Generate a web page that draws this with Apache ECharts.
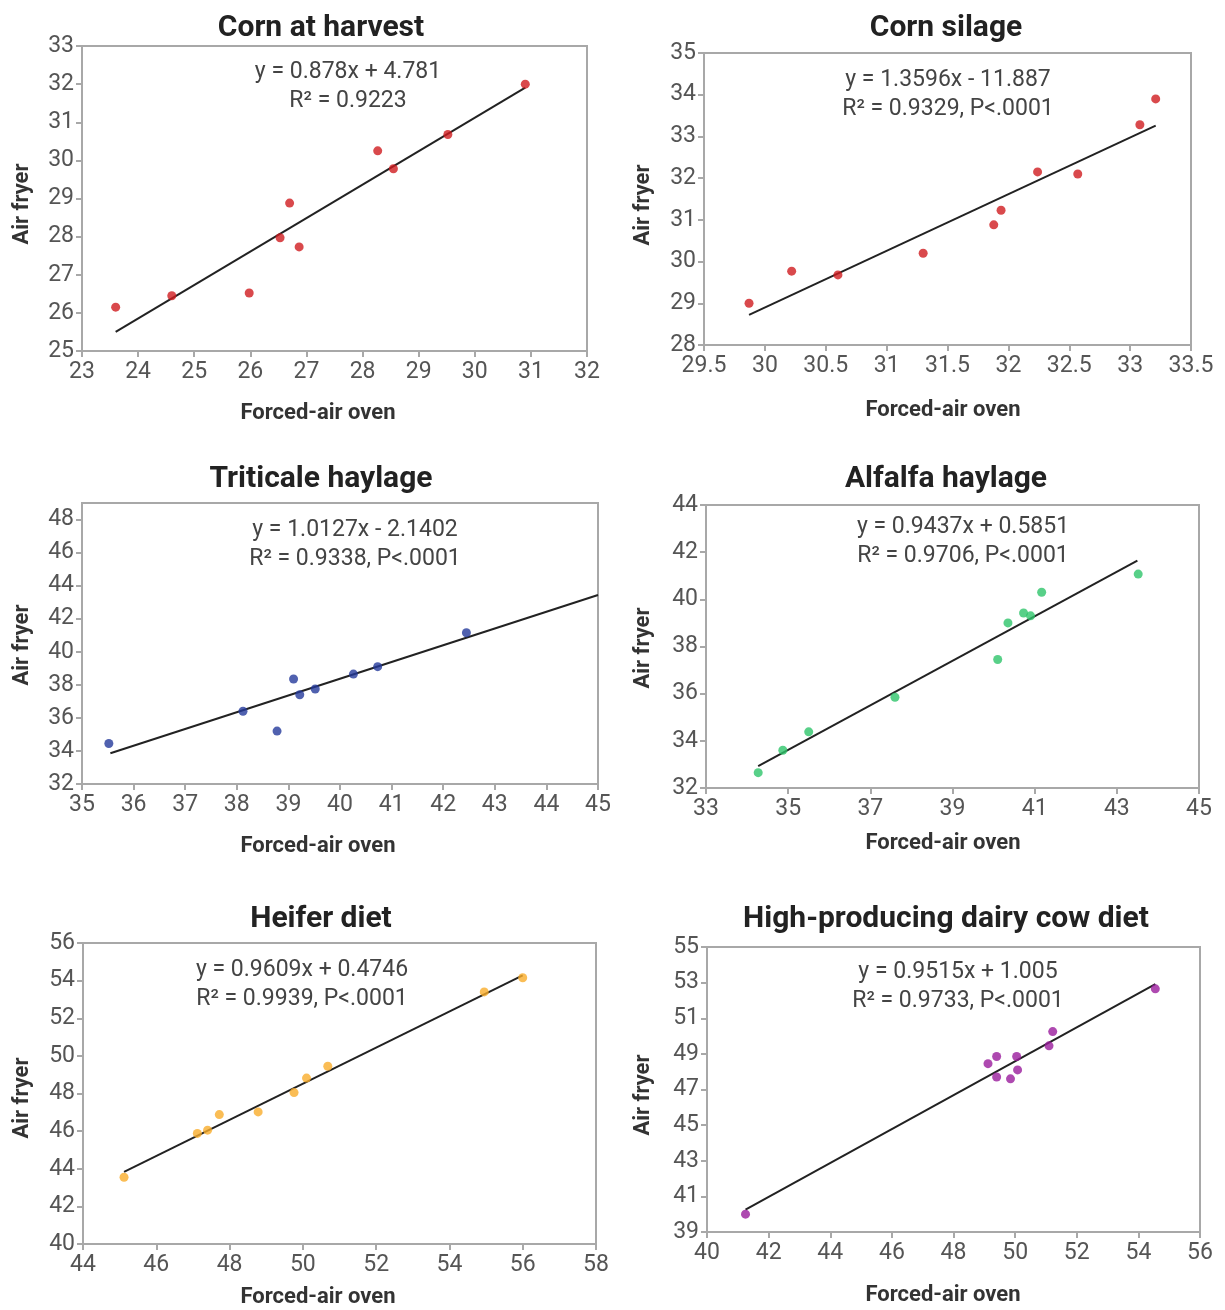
<!DOCTYPE html>
<html>
<head>
<meta charset="utf-8">
<script src="https://cdn.jsdelivr.net/npm/echarts@6/dist/echarts.min.js"></script>
<style>
  html, body { margin: 0; padding: 0; background: #fff; }
  #chart { width: 1225px; height: 1310px; }
</style>
</head>
<body>
<div id="chart"></div>
<script>
// panel titles and equation labels
const titles = ['Corn at harvest', 'Corn silage', 'Triticale haylage', 'Alfalfa haylage', 'Heifer diet', 'High-producing dairy cow diet']
const equations = [
  ['y = 0.878x + 4.781', 'R\u00b2 = 0.9223'],
  ['y = 1.3596x - 11.887', 'R\u00b2 = 0.9329, P<.0001'],
  ['y = 1.0127x - 2.1402', 'R\u00b2 = 0.9338, P<.0001'],
  ['y = 0.9437x + 0.5851', 'R\u00b2 = 0.9706, P<.0001'],
  ['y = 0.9609x + 0.4746', 'R\u00b2 = 0.9939, P<.0001'],
  ['y = 0.9515x + 1.005', 'R\u00b2 = 0.9733, P<.0001']
]
const xName = 'Forced-air oven'
const yName = 'Air fryer'

// forced-air oven (x) vs air fryer (y)
const cornHarvest = [[23.6, 26.15], [24.6, 26.45], [25.98, 26.52], [26.53, 27.97], [26.7, 28.88], [26.87, 27.73], [28.27, 30.25], [28.55, 29.78], [29.52, 30.68], [30.9, 32.0]]
const cornSilage = [[29.87, 29.0], [30.22, 29.77], [30.6, 29.68], [31.3, 30.2], [31.88, 30.88], [31.94, 31.23], [32.24, 32.15], [32.57, 32.1], [33.08, 33.28], [33.21, 33.9]]
const triticale = [[35.52, 34.45], [38.12, 36.4], [38.78, 35.2], [39.1, 38.35], [39.22, 37.4], [39.52, 37.75], [40.26, 38.65], [40.73, 39.1], [42.45, 41.15]]
const alfalfa = [[34.27, 32.65], [34.87, 33.6], [35.5, 34.38], [37.6, 35.85], [40.1, 37.45], [40.35, 39.0], [40.73, 39.42], [40.9, 39.3], [41.17, 40.3], [43.52, 41.07]]
const heifer = [[45.12, 43.55], [47.12, 45.88], [47.4, 46.05], [47.72, 46.88], [48.78, 47.02], [49.76, 48.05], [50.1, 48.82], [50.68, 49.45], [54.95, 53.4], [56.0, 54.15]]
const dairyCow = [[41.25, 40.0], [49.12, 48.45], [49.4, 48.85], [49.4, 47.7], [49.85, 47.6], [50.05, 48.85], [50.08, 48.1], [51.1, 49.45], [51.22, 50.25], [54.55, 52.65]]

// trend line end points
const trendLines = [
  [[23.6, 25.5], [30.9, 31.91]],
  [[29.87, 28.72], [33.21, 33.26]],
  [[35.55, 33.86], [45.0, 43.43]],
  [[34.27, 32.93], [43.5, 41.64]],
  [[45.12, 43.83], [56.0, 54.28]],
  [[41.25, 40.25], [54.55, 52.91]]
]

// axis ranges [min, max, interval]
const xRanges = [[23, 32, 1], [29.5, 33.5, 0.5], [35, 45, 1], [33, 45, 2], [44, 58, 2], [40, 56, 2]]
const yRanges = [[25, 33, 1], [28, 35, 1], [32, 49, 2], [32, 44, 2], [40, 56, 2], [39, 55, 2]]

const pointSets = [cornHarvest, cornSilage, triticale, alfalfa, heifer, dairyCow]
const colors = ['#cf1b1f', '#cf1b1f', '#243a9b', '#2ec46a', '#f9ad2a', '#9a1b9c']

const grids = [
  { left: 82, top: 46, width: 505, height: 305 },
  { left: 704, top: 53, width: 487, height: 292 },
  { left: 82, top: 503, width: 516, height: 281 },
  { left: 706, top: 505, width: 493, height: 283 },
  { left: 83, top: 943, width: 513, height: 301 },
  { left: 707, top: 947, width: 493, height: 285 }
]
const titlePos = [[316, 8], [941, 8], [316, 459], [941, 459], [316, 899], [941, 899]]
const eqPos = [[348, 58], [948, 66], [355, 516], [963, 513], [302, 956], [958, 958]]
const xNamePos = [[318, 413], [943, 410], [318, 846], [943, 843], [318, 1297], [943, 1295]]
const yNamePos = [[22, 204], [643, 205], [22, 645], [643, 648], [22, 1098], [643, 1095]]

const font = "'Liberation Sans Narrow', 'Roboto', sans-serif"

let chart = echarts.init(document.getElementById('chart'))

let option = {
  backgroundColor: '#fff',
  animation: false,
  title: [],
  grid: [],
  xAxis: [],
  yAxis: [],
  series: [],
  graphic: []
}

for (let i = 0; i < 6; i++) {
  option.title.push({
    text: titles[i],
    left: titlePos[i][0],
    top: titlePos[i][1],
    textAlign: 'center',
    textStyle: { fontFamily: font, fontSize: 30, fontWeight: 'bold', color: '#222' }
  })
  option.grid.push(Object.assign({ show: true, borderColor: '#a8a8a8', borderWidth: 2, containLabel: false }, grids[i]))
  option.xAxis.push({
    type: 'value',
    gridIndex: i,
    min: xRanges[i][0],
    max: xRanges[i][1],
    interval: xRanges[i][2],
    axisLine: { lineStyle: { color: '#a8a8a8', width: 2 } },
    axisTick: { show: true, length: 6, lineStyle: { color: '#a8a8a8', width: 2 } },
    axisLabel: { fontFamily: font, fontSize: 23, color: '#555', margin: 10 },
    splitLine: { show: false }
  })
  option.yAxis.push({
    type: 'value',
    gridIndex: i,
    min: yRanges[i][0],
    max: yRanges[i][1],
    interval: yRanges[i][2],
    axisLine: { lineStyle: { color: '#a8a8a8', width: 2 } },
    axisTick: { show: true, length: 6, lineStyle: { color: '#a8a8a8', width: 2 } },
    axisLabel: { fontFamily: font, fontSize: 23, color: '#555', margin: 8, showMaxLabel: i !== 2 },
    splitLine: { show: false }
  })
  option.series.push({
    type: 'line',
    xAxisIndex: i,
    yAxisIndex: i,
    data: trendLines[i],
    showSymbol: false,
    lineStyle: { color: '#222', width: 2 },
    z: 2
  })
  option.series.push({
    type: 'scatter',
    xAxisIndex: i,
    yAxisIndex: i,
    data: pointSets[i],
    symbolSize: 9,
    itemStyle: { color: colors[i] },
    z: 3
  })
  option.graphic.push({
    type: 'text',
    x: eqPos[i][0],
    y: eqPos[i][1],
    style: {
      text: equations[i].join('\n'),
      align: 'center',
      verticalAlign: 'top',
      fontFamily: font,
      fontSize: 23,
      lineHeight: 29,
      fill: '#444'
    }
  })
  option.graphic.push({
    type: 'text',
    x: xNamePos[i][0],
    y: xNamePos[i][1],
    style: {
      text: xName,
      align: 'center',
      verticalAlign: 'middle',
      fontFamily: font,
      fontSize: 22,
      fontWeight: 'bold',
      fill: '#333'
    }
  })
  option.graphic.push({
    type: 'text',
    x: yNamePos[i][0],
    y: yNamePos[i][1],
    rotation: Math.PI / 2,
    style: {
      text: yName,
      align: 'center',
      verticalAlign: 'middle',
      fontFamily: font,
      fontSize: 22,
      fontWeight: 'bold',
      fill: '#333'
    }
  })
}

chart.setOption(option)
</script>
</body>
</html>
